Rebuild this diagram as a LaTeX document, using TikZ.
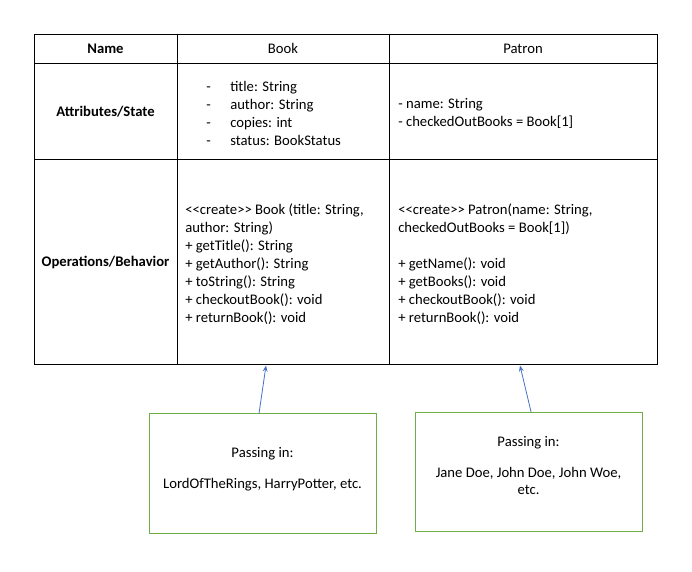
\documentclass[tikz,border=0pt]{standalone}
\usepackage{fontspec}
\setmainfont{Carlito}
\usetikzlibrary{positioning,arrows.meta}
\definecolor{boxgreen}{RGB}{112,173,71}
\definecolor{arrowblue}{RGB}{68,114,196}
\tikzset{
	txt/.style={font=\fontsize{11}{13.4}\selectfont, inner sep=0pt},
	headtxt/.style={txt, font=\fontsize{11}{13.4}\selectfont\bfseries},
	listtxt/.style={txt, align=left, anchor=north west},
	inbox/.style={draw=boxgreen, line width=0.75pt, minimum width=170.25pt, minimum height=89.5pt},
	passarrow/.style={draw=arrowblue, line width=0.6pt, -{Stealth[length=4.5pt,width=3.6pt]}}
}
\newcommand{\dashitem}[1]{\makebox[18pt][l]{-}#1}
\begin{document}
\begin{tikzpicture}[x=0.75pt,y=-0.75pt]
		\useasboundingbox (0,0) rectangle (692,571);
		% table
		\draw[line width=0.75pt] (34,34) rectangle (657,364);
		\draw[line width=0.75pt] (34,63) -- (657,63);
		\draw[line width=0.75pt] (34,159) -- (657,159);
		\draw[line width=0.75pt] (177,34) -- (177,364);
		\draw[line width=0.75pt] (389,34) -- (389,364);
		\node[headtxt] (name) at (105.5,48.5) {Name};
		\node[txt] (book) at (283,48.5) {Book};
		\node[txt] (patron) at (523,48.5) {Patron};
		\node[headtxt] (attr) at (105.5,112) {Attributes/State};
		\node[headtxt] (oper) at (105.5,262) {Operations/Behavior};
		\node[listtxt] (bookattr) at (206,81.5) {\dashitem{title: String}\\ \dashitem{author: String}\\ \dashitem{copies: int}\\ \dashitem{status: BookStatus}};
		\node[listtxt] (patronattr) at (398,98.5) {- name: String\\ - checkedOutBooks = Book[1]};
		\node[listtxt] (bookoper) at (185,204) {<{}<create>{}> Book (title: String,\\ author: String)\\ + getTitle(): String\\ + getAuthor(): String\\ + toString(): String\\ + checkoutBook(): void\\ + returnBook(): void};
		\node[listtxt] (patronoper) at (398,204) {<{}<create>{}> Patron(name: String,\\ checkedOutBooks = Book[1])\\[13.4pt] + getName(): void\\ + getBooks(): void\\ + checkoutBook(): void\\ + returnBook(): void};
		% passing in
		\node[inbox] (bookin) at (262.5,473.5) {};
		\node[inbox] (patronin) at (528.5,472) {};
		\node[txt, align=center, below=25pt of bookin.north] (bookintxt) {Passing in:\\[10.3pt] LordOfTheRings, HarryPotter, etc.};
		\node[txt, align=center, below=18.3pt of patronin.north] (patronintxt) {Passing in:\\[9.5pt] Jane Doe, John Doe, John Woe,\\ etc.};
		\coordinate (booktip) at (266,365.5);
		\coordinate (patrontip) at (520,365.5);
		\draw[passarrow] ([xshift=-2.6pt]bookin.north) -- (booktip);
		\draw[passarrow] ([xshift=1.9pt]patronin.north) -- (patrontip);
	\end{tikzpicture}
\end{document}
